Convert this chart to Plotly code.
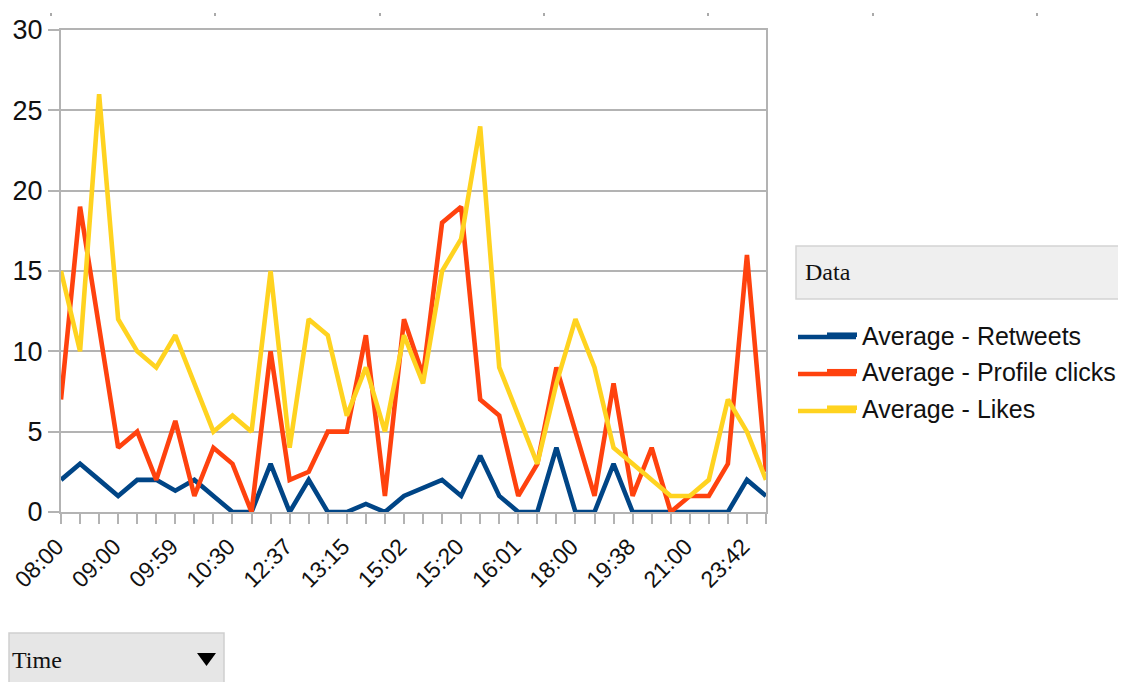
import plotly.graph_objects as go

# ---- data ----
times = ["08:00", "08:15", "08:30", "09:00", "09:20", "09:40", "09:59", "10:10", "10:20",
         "10:30", "11:00", "12:00", "12:37", "12:50", "13:00", "13:15", "14:00", "14:30",
         "15:02", "15:08", "15:14", "15:20", "15:30", "15:45", "16:01", "16:30", "17:00",
         "18:00", "18:30", "19:00", "19:38", "20:00", "20:30", "21:00", "22:00", "23:00",
         "23:42", "23:59"]
retweets = [2, 3, 2, 1, 2, 2, 1.33, 2, 1, 0, 0, 3, 0, 2, 0, 0, 0.5, 0, 1, 1.5, 2, 1,
            3.5, 1, 0, 0, 4, 0, 0, 3, 0, 0, 0, 0, 0, 0, 2, 1]
profile_clicks = [7, 19, 11.5, 4, 5, 2, 5.67, 1, 4, 3, 0, 10, 2, 2.5, 5, 5, 11, 1, 12, 8.5,
                  18, 19, 7, 6, 1, 3, 9, 5, 1, 8, 1, 4, 0, 1, 1, 3, 16, 2.5]
likes = [15, 10, 26, 12, 10, 9, 11, 8, 5, 6, 5, 15, 4, 12, 11, 6, 9, 5, 11, 8, 15, 17,
         24, 9, 6, 3, 8, 12, 9, 4, 3, 2, 1, 1, 2, 7, 5, 2]
series_names = ["Average - Retweets", "Average - Profile clicks", "Average - Likes"]
series_colors = ["#004586", "#ff420e", "#ffd320"]
y_ticks = [0, 5, 10, 15, 20, 25, 30]
tick_labels = [t if i % 3 == 0 else "" for i, t in enumerate(times)]

# ---- geometry (reference page pixels; the page body adds an 8px margin) ----
OFF = 8
FW, FH = 1126 - OFF, 682 - OFF
L, R, T, B = 61 - OFF, 766 - OFF, 30 - OFF, 512 - OFF
W, H = R - L, B - T


def px(x):
    return (x - OFF - L) / W


def py(y):
    return (B - (y - OFF)) / H


fig = go.Figure()
for name, vals, col in zip(series_names, [retweets, profile_clicks, likes], series_colors):
    fig.add_trace(go.Scatter(x=times, y=vals, name=name, mode="lines",
                             line=dict(color=col, width=4.6), legendgroup=name))

grid = "#b3b3b3"
fig.update_layout(
    width=FW, height=FH,
    margin=dict(l=L, r=FW - R, t=T, b=FH - B, pad=0, autoexpand=False),
    paper_bgcolor="white", plot_bgcolor="white",
    font=dict(family="Liberation Sans, Arial, sans-serif", color="#111111", size=24),
    showlegend=True,
    legend=dict(x=px(822), y=py(312), xanchor="left", yanchor="top",
                font=dict(size=25, color="#111111"), bgcolor="rgba(0,0,0,0)",
                traceorder="grouped", tracegroupgap=1),
    xaxis=dict(type="category", range=[0, len(times) - 1], tickmode="array",
               tickvals=times, ticktext=tick_labels, tickangle=-45, automargin=False,
               ticklabelshift=-4,
               ticks="outside", ticklen=10, tickwidth=1.5, tickcolor=grid,
               showline=True, linecolor=grid, linewidth=2, mirror=True,
               showgrid=False, zeroline=False, tickfont=dict(size=23)),
    yaxis=dict(range=[0, 30], tickmode="array", tickvals=y_ticks, automargin=False,
               ticks="outside", ticklen=11, tickwidth=1.5, tickcolor=grid,
               showline=True, linecolor=grid, linewidth=2, mirror=True,
               showgrid=True, gridcolor=grid, gridwidth=1.5, zeroline=False,
               tickfont=dict(size=27)),
)

shapes = []
# "Data" field button
shapes.append(dict(type="rect", xref="paper", yref="paper",
                   x0=px(796), x1=px(1125), y0=py(299), y1=py(246),
                   fillcolor="#efefef", line=dict(color="#d4d4d4", width=1.5), layer="below"))
# "Time" field button
shapes.append(dict(type="rect", xref="paper", yref="paper",
                   x0=px(9), x1=px(224), y0=py(684), y1=py(633),
                   fillcolor="#e6e6e6", line=dict(color="#cfcfcf", width=1.5), layer="below"))
# dropdown triangle
shapes.append(dict(type="path", xref="paper", yref="paper",
                   path=f"M {px(197)},{py(653)} L {px(216)},{py(653)} L {px(206.5)},{py(666)} Z",
                   fillcolor="black", line=dict(color="black", width=0)))
# longer legend line samples (full-length keys under the legend's own keys)
for i, col in enumerate(series_colors):
    yy = 337 + 37 * i
    shapes.append(dict(type="line", xref="paper", yref="paper",
                       x0=px(798), x1=px(856), y0=py(yy), y1=py(yy),
                       line=dict(color=col, width=4.6)))
# small separator dots at top
for dx in [51, 215, 380, 544, 708, 873, 1037]:
    shapes.append(dict(type="rect", xref="paper", yref="paper",
                       x0=px(dx - 1), x1=px(dx + 1), y0=py(16), y1=py(13),
                       fillcolor="#aaaaaa", line=dict(width=0)))
fig.update_layout(shapes=shapes)

fig.add_annotation(text="Data", xref="paper", yref="paper", x=px(803), y=py(272),
                   xanchor="left", yanchor="middle", showarrow=False,
                   font=dict(family="Liberation Serif, Times New Roman, serif", size=24, color="#111111"))
fig.add_annotation(text="Time", xref="paper", yref="paper", x=px(10), y=py(660),
                   xanchor="left", yanchor="middle", showarrow=False,
                   font=dict(family="Liberation Serif, Times New Roman, serif", size=24, color="#111111"))

fig.write_html("out.html")
